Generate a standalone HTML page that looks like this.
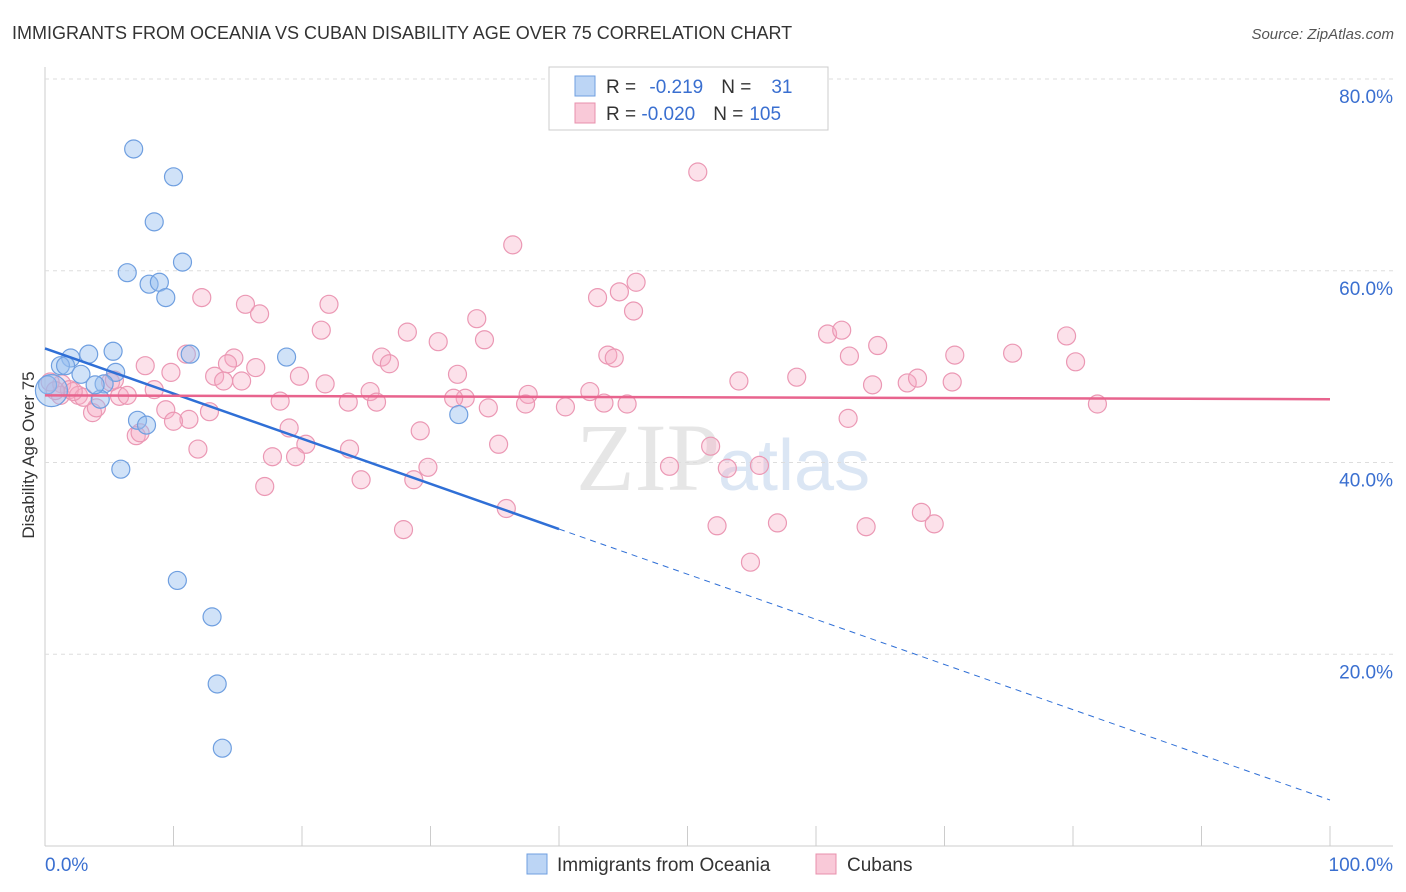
<!DOCTYPE html>
<html><head><meta charset="utf-8">
<style>
body{margin:0;background:#fff;font-family:"Liberation Sans",sans-serif;}
svg{display:block}
</style></head><body>
<svg id="c" width="1406" height="892" xmlns="http://www.w3.org/2000/svg">
<text x="12" y="39" font-size="18" fill="#333">IMMIGRANTS FROM OCEANIA VS CUBAN DISABILITY AGE OVER 75 CORRELATION CHART</text>
<text x="1394" y="39" font-size="15" fill="#555" font-style="italic" text-anchor="end">Source: ZipAtlas.com</text>
<text x="720" y="490" font-size="96" fill="#e6e6e6" font-family="Liberation Serif,serif" text-anchor="end">ZIP</text>
<text x="718" y="490" font-size="72" fill="#dbe6f4">atlas</text>
<text transform="translate(34,455) rotate(-90)" font-size="17" fill="#333" text-anchor="middle">Disability Age Over 75</text>
<g id="grid"></g><g id="pts"></g><g id="trend"></g>
<g>
<rect x="549" y="67" width="279" height="63" fill="#fff" stroke="#ccc"/>
<rect x="575" y="76" width="20" height="20" fill="#bcd5f5" stroke="#6f9fe0"/>
<rect x="575" y="103" width="20" height="20" fill="#f9c9d8" stroke="#e890ac"/>
<text x="606" y="93" font-size="19" fill="#333">R = <tspan fill="#3a6fd0" dx="8">-0.219</tspan><tspan fill="#333" dx="18">N =</tspan><tspan fill="#3a6fd0" dx="20">31</tspan></text>
<text x="606" y="120" font-size="19" fill="#333">R = <tspan fill="#3a6fd0">-0.020</tspan><tspan fill="#333" dx="18">N =</tspan><tspan fill="#3a6fd0" dx="6">105</tspan></text>
</g>
<g>
<rect x="527" y="854" width="20" height="20" fill="#bcd5f5" stroke="#6f9fe0"/>
<text x="557" y="871" font-size="19" fill="#333">Immigrants from Oceania</text>
<rect x="816" y="854" width="20" height="20" fill="#f9c9d8" stroke="#e890ac"/>
<text x="847" y="871" font-size="19" fill="#333">Cubans</text>
</g>
</svg>
<script>
const NS="http://www.w3.org/2000/svg";
const yTicks=[20,40,60,80];
const xTickLabels=["0.0%","100.0%"];
const blueX=[6.9,10.0,8.5,10.7,6.4,8.1,8.9,9.4,5.3,3.4,2.0,1.2,2.8,5.5,4.6,11.3,18.8,4.3,7.2,7.9,32.2,5.9,10.3,13.0,13.4,13.8,0.2,3.9,1.6,0.5];
const blueY=[72.7,69.8,65.1,60.9,59.8,58.6,58.8,57.2,51.6,51.3,50.9,50.1,49.2,49.4,48.2,51.3,51.0,46.6,44.4,43.9,45.0,39.3,27.7,23.9,16.9,10.2,48.1,48.1,50.1,47.5];
const pinkX=[50.8,36.4,46.0,43.0,44.7,12.2,15.6,22.1,16.7,33.6,45.8,21.5,28.2,60.9,62.0,79.5,64.8,30.6,34.2,43.8,44.3,62.6,70.8,75.3,80.2,11.0,14.7,14.2,26.2,26.8,7.8,9.8,16.4,13.2,19.8,32.1,54.0,58.5,64.4,67.1,67.9,70.6,13.9,15.3,21.8,5.1,8.5,25.3,32.7,31.8,37.6,42.4,34.5,37.4,40.5,43.5,45.3,81.9,18.3,23.6,25.8,9.4,12.8,11.2,10.0,62.5,3.7,4.0,19.0,29.2,7.1,7.4,20.3,11.9,35.3,51.8,23.7,17.7,19.5,29.8,48.6,53.1,55.6,24.6,28.7,17.1,35.9,27.9,52.3,57.0,63.9,69.2,68.2,54.9,1.3,1.9,2.6,3.0,1.2,0.4,5.8,6.4,0.8,5.4,2.2];
const pinkY=[70.3,62.7,58.8,57.2,57.8,57.2,56.5,56.5,55.5,55.0,55.8,53.8,53.6,53.4,53.8,53.2,52.2,52.6,52.8,51.2,50.9,51.1,51.2,51.4,50.5,51.3,50.9,50.3,51.0,50.3,50.1,49.4,49.9,49.0,49.0,49.2,48.5,48.9,48.1,48.3,48.8,48.4,48.5,48.5,48.2,48.4,47.6,47.4,46.7,46.7,47.1,47.4,45.7,46.1,45.8,46.2,46.1,46.1,46.4,46.3,46.3,45.5,45.3,44.5,44.3,44.6,45.2,45.7,43.6,43.3,42.8,43.1,41.9,41.4,41.9,41.7,41.4,40.6,40.6,39.5,39.6,39.4,39.7,38.2,38.2,37.5,35.2,33.0,33.4,33.7,33.3,33.6,34.8,29.6,48.2,47.6,47.0,46.8,47.0,48.4,46.9,47.0,47.5,48.6,47.4];
const blueTrend=[51.9,4.8]; // y at x=0, x=100
const pinkTrend=[47.0,46.6];
const sx=v=>45+v*12.85, sy=v=>846-v*9.5875;
function mk(t,a,p){const e=document.createElementNS(NS,t);for(const k in a)e.setAttribute(k,a[k]);p.appendChild(e);return e;}
const grid=document.getElementById('grid');
const ax=mk('line',{x1:45,y1:67,x2:45,y2:846,stroke:'#ccc'},grid);


const bx=mk('line',{x1:45,y1:846,x2:1393,y2:846,stroke:'#ccc'},grid);


yTicks.forEach(v=>{
 const g=mk('line',{x1:45,x2:1393,y1:sy(v),y2:sy(v),stroke:'#ddd','stroke-dasharray':'4,4'},grid);
 
 
 const t=mk('text',{x:1393,y:sy(v)+24,'font-size':19,fill:'#3a6fd0','text-anchor':'end'},grid);t.textContent=v.toFixed(1)+'%';
 
 
});
for(let i=0;i<=10;i++){const l=mk('line',{x1:sx(i*10),x2:sx(i*10),y1:826,y2:846,stroke:'#ccc'},grid);
 
 }
const t0=mk('text',{x:45,y:871,'font-size':19,fill:'#3a6fd0'},grid);t0.textContent=xTickLabels[0];


const t1=mk('text',{x:1393,y:871,'font-size':19,fill:'#3a6fd0','text-anchor':'end'},grid);t1.textContent=xTickLabels[1];


const pts=document.getElementById('pts');
pinkX.forEach((x,i)=>{const c=mk('circle',{cx:sx(x),cy:sy(pinkY[i]),r:9,fill:'rgba(245,170,195,0.35)',stroke:'#eb98b4','stroke-width':1.2},pts);
 
 });
blueX.forEach((x,i)=>{const c=mk('circle',{cx:sx(x),cy:sy(blueY[i]),r:i==blueX.length-1?16:9,fill:'rgba(150,190,240,0.45)',stroke:'#6f9fe0','stroke-width':1.2},pts);
 
 });
const tr=document.getElementById('trend');
const by=x=>blueTrend[0]+(blueTrend[1]-blueTrend[0])*x/100;
const b1=mk('line',{x1:sx(0),y1:sy(by(0)),x2:sx(40),y2:sy(by(40)),stroke:'#2f6fd6','stroke-width':2.5},tr);


const b2=mk('line',{x1:sx(40),y1:sy(by(40)),x2:sx(100),y2:sy(by(100)),stroke:'#2f6fd6','stroke-width':1,'stroke-dasharray':'6,5'},tr);


const p1=mk('line',{x1:sx(0),y1:sy(pinkTrend[0]),x2:sx(100),y2:sy(pinkTrend[1]),stroke:'#e8648e','stroke-width':2.5},tr);


</script>
</body></html>
